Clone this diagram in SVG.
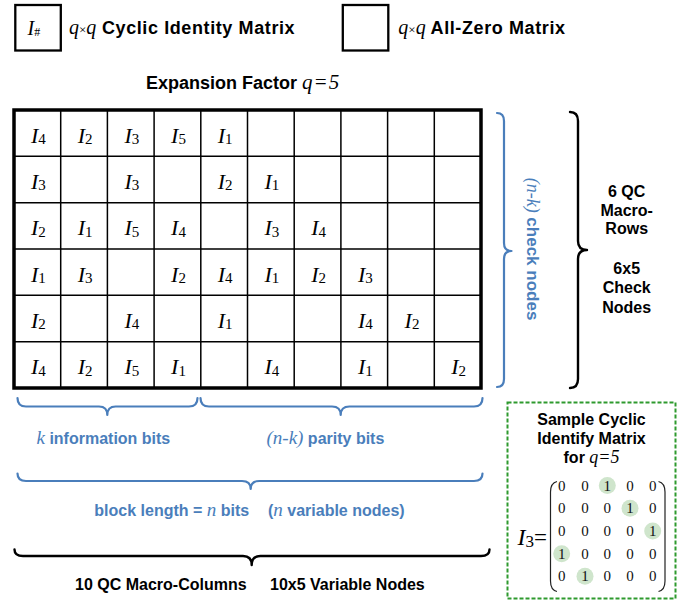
<svg xmlns="http://www.w3.org/2000/svg" width="694" height="608" viewBox="0 0 694 608">
<style>
.bg{fill:#fff}
.sa{font-family:"Liberation Sans",Arial,sans-serif;font-weight:bold}
.tm{font-family:"Liberation Serif","Times New Roman",serif;font-style:italic;font-weight:normal}
.tr{font-family:"Liberation Serif","Times New Roman",serif;font-style:normal;font-weight:normal}
.lg{font-size:18px;letter-spacing:0.6px}
.blue{fill:#4a7ebb}
.cell{font-size:22px;fill:#000}
.sub{font-size:15px}
.grid{stroke:#000;stroke-width:1.5;fill:none}
.brb{fill:none;stroke:#4a7ebb;stroke-width:2.2;stroke-linecap:round;stroke-linejoin:round}
.brk{fill:none;stroke:#000;stroke-width:2.4;stroke-linecap:round;stroke-linejoin:round}
.mx{font-size:15px;fill:#111}
.hl{fill:#cfe5cc}
</style>
<rect class="bg" x="0" y="0" width="694" height="608"/>

<g id="legend-identity">
  <rect x="15.3" y="5" width="45.5" height="45.5" fill="#fff" stroke="#000" stroke-width="2.3"/>
  <text x="27.5" y="35" class="tm" font-size="20">I<tspan class="tr" font-size="12" dy="1">#</tspan></text>
  <text x="69" y="34" class="sa lg"><tspan class="tm" font-size="20" letter-spacing="0">q</tspan><tspan class="tr" font-size="13" letter-spacing="0">×</tspan><tspan class="tm" font-size="20" letter-spacing="0">q</tspan> Cyclic Identity Matrix</text>
</g>

<g id="legend-zero">
  <rect x="342.8" y="5" width="45.5" height="45.5" fill="#fff" stroke="#000" stroke-width="2.3"/>
  <text x="398.3" y="34" class="sa lg"><tspan class="tm" font-size="20" letter-spacing="0">q</tspan><tspan class="tr" font-size="13" letter-spacing="0">×</tspan><tspan class="tm" font-size="20" letter-spacing="0">q</tspan> All-Zero Matrix</text>
</g>

<g id="title">
  <text x="146" y="89" class="sa" font-size="18">Expansion Factor <tspan class="tm" font-size="21" letter-spacing="1">q=5</tspan></text>
</g>

<g id="parity-check-matrix">
  <rect x="14" y="110" width="467" height="278" fill="#fff" stroke="#000" stroke-width="3.5"/>
  <path class="grid" d="M60.7,110V388M107.4,110V388M154.1,110V388M200.8,110V388M247.5,110V388M294.2,110V388M340.9,110V388M387.6,110V388M434.3,110V388M14,156.33H481M14,202.67H481M14,249H481M14,295.33H481M14,341.67H481"/>
  <g class="tm cell" text-anchor="middle">
    <!-- row 1 -->
    <text x="38.4" y="142.5">I<tspan class="tr sub" dy="1.5">4</tspan></text>
    <text x="85.1" y="142.5">I<tspan class="tr sub" dy="1.5">2</tspan></text>
    <text x="131.8" y="142.5">I<tspan class="tr sub" dy="1.5">3</tspan></text>
    <text x="178.5" y="142.5">I<tspan class="tr sub" dy="1.5">5</tspan></text>
    <text x="225.2" y="142.5">I<tspan class="tr sub" dy="1.5">1</tspan></text>
    <!-- row 2 -->
    <text x="38.4" y="188.8">I<tspan class="tr sub" dy="1.5">3</tspan></text>
    <text x="131.8" y="188.8">I<tspan class="tr sub" dy="1.5">3</tspan></text>
    <text x="225.2" y="188.8">I<tspan class="tr sub" dy="1.5">2</tspan></text>
    <text x="271.9" y="188.8">I<tspan class="tr sub" dy="1.5">1</tspan></text>
    <!-- row 3 -->
    <text x="38.4" y="235.1">I<tspan class="tr sub" dy="1.5">2</tspan></text>
    <text x="85.1" y="235.1">I<tspan class="tr sub" dy="1.5">1</tspan></text>
    <text x="131.8" y="235.1">I<tspan class="tr sub" dy="1.5">5</tspan></text>
    <text x="178.5" y="235.1">I<tspan class="tr sub" dy="1.5">4</tspan></text>
    <text x="271.9" y="235.1">I<tspan class="tr sub" dy="1.5">3</tspan></text>
    <text x="318.6" y="235.1">I<tspan class="tr sub" dy="1.5">4</tspan></text>
    <!-- row 4 -->
    <text x="38.4" y="281.5">I<tspan class="tr sub" dy="1.5">1</tspan></text>
    <text x="85.1" y="281.5">I<tspan class="tr sub" dy="1.5">3</tspan></text>
    <text x="178.5" y="281.5">I<tspan class="tr sub" dy="1.5">2</tspan></text>
    <text x="225.2" y="281.5">I<tspan class="tr sub" dy="1.5">4</tspan></text>
    <text x="271.9" y="281.5">I<tspan class="tr sub" dy="1.5">1</tspan></text>
    <text x="318.6" y="281.5">I<tspan class="tr sub" dy="1.5">2</tspan></text>
    <text x="365.3" y="281.5">I<tspan class="tr sub" dy="1.5">3</tspan></text>
    <!-- row 5 -->
    <text x="38.4" y="327.8">I<tspan class="tr sub" dy="1.5">2</tspan></text>
    <text x="131.8" y="327.8">I<tspan class="tr sub" dy="1.5">4</tspan></text>
    <text x="225.2" y="327.8">I<tspan class="tr sub" dy="1.5">1</tspan></text>
    <text x="365.3" y="327.8">I<tspan class="tr sub" dy="1.5">4</tspan></text>
    <text x="412" y="327.8">I<tspan class="tr sub" dy="1.5">2</tspan></text>
    <!-- row 6 -->
    <text x="38.4" y="374.1">I<tspan class="tr sub" dy="1.5">4</tspan></text>
    <text x="85.1" y="374.1">I<tspan class="tr sub" dy="1.5">2</tspan></text>
    <text x="131.8" y="374.1">I<tspan class="tr sub" dy="1.5">5</tspan></text>
    <text x="178.5" y="374.1">I<tspan class="tr sub" dy="1.5">1</tspan></text>
    <text x="271.9" y="374.1">I<tspan class="tr sub" dy="1.5">4</tspan></text>
    <text x="365.3" y="374.1">I<tspan class="tr sub" dy="1.5">1</tspan></text>
    <text x="458.7" y="374.1">I<tspan class="tr sub" dy="1.5">2</tspan></text>
  </g>
</g>

<g id="braces">
  <path class="brb" d="M497,113 Q504,113 504,121 L504,243 Q504,251 511.5,251 Q504,251 504,259 L504,379 Q504,387 497,387"/>
  <path class="brk" d="M570,112 Q578,112 578,121 L578,241 Q578,250 587,250 Q578,250 578,259 L578,379 Q578,388 570,388"/>
  <path class="brb" d="M17.5,398 Q17.5,406.5 26,406.5 L99,406.5 Q107.3,406.5 107.3,415 Q107.3,406.5 115.6,406.5 L189,406.5 Q197.5,406.5 197.5,398"/>
  <path class="brb" d="M200.5,398 Q200.5,406.5 209,406.5 L332,406.5 Q340.7,406.5 340.7,415 Q340.7,406.5 349.4,406.5 L474,406.5 Q482.5,406.5 482.5,398"/>
  <path class="brb" d="M17.5,473.5 Q17.5,481 26,481 L242,481 Q250.7,481 250.7,489 Q250.7,481 259.4,481 L474,481 Q482.5,481 482.5,473.5"/>
  <path class="brk" d="M14.5,549.5 Q14.5,556 23,556 L243,556 Q251.7,556 251.7,565 Q251.7,556 260.4,556 L481,556 Q489.5,556 489.5,549.5"/>
</g>

<g id="label-check-nodes">
  <text transform="translate(527,249) rotate(90)" text-anchor="middle" class="sa blue" font-size="17"><tspan class="tm" font-size="18">(n-k)</tspan> check nodes</text>
</g>

<g id="label-macro-rows" class="sa" font-size="16" text-anchor="middle">
  <text x="626.7" y="196.7">6 QC</text>
  <text x="626.7" y="215.5">Macro-</text>
  <text x="626.7" y="234.3">Rows</text>
  <text x="626.7" y="274.3">6x5</text>
  <text x="626.7" y="293.3">Check</text>
  <text x="626.7" y="312.5">Nodes</text>
</g>

<g id="label-info-bits">
  <text x="36.5" y="444" class="sa blue" font-size="16"><tspan class="tm" font-size="19">k</tspan> information bits</text>
</g>
<g id="label-parity-bits">
  <text x="266.5" y="444" class="sa blue" font-size="16"><tspan class="tm" font-size="19">(n-k)</tspan> parity bits</text>
</g>
<g id="label-block-length">
  <text x="94.3" y="516" class="sa blue" font-size="16">block length = <tspan class="tm" font-size="19">n</tspan> bits</text>
  <text x="268" y="516" class="sa blue" font-size="16">(<tspan class="tm" font-size="19">n</tspan> variable nodes)</text>
</g>
<g id="label-macro-columns">
  <text x="75" y="590" class="sa" font-size="16">10 QC Macro-Columns</text>
  <text x="270" y="590" class="sa" font-size="16">10x5 Variable Nodes</text>
</g>

<g id="sample-matrix">
  <rect x="507.5" y="402.5" width="168" height="196" fill="none" stroke="#2e9a2e" stroke-width="2" stroke-dasharray="4 2"/>
  <g class="sa" font-size="16" text-anchor="middle">
    <text x="591.5" y="425">Sample Cyclic</text>
    <text x="591.5" y="444.3">Identify Matrix</text>
    <text x="591.5" y="463.3">for <tspan class="tm" font-size="18">q=5</tspan></text>
  </g>
  <text x="517.5" y="545" class="tm" font-size="24">I<tspan class="tr" font-size="17" dy="2">3</tspan><tspan class="tr" font-size="23" dy="-2">=</tspan></text>
  <path d="M557,481.5 Q550.5,483 550.5,492 L550.5,581 Q550.5,590 557,591.5" fill="none" stroke="#222" stroke-width="1.2"/>
  <path d="M658.5,481.5 Q665,483 665,492 L665,581 Q665,590 658.5,591.5" fill="none" stroke="#222" stroke-width="1.2"/>
  <circle class="hl" cx="607.3" cy="485.5" r="8.5"/>
  <circle class="hl" cx="630" cy="508.2" r="8.5"/>
  <circle class="hl" cx="652.7" cy="531" r="8.5"/>
  <circle class="hl" cx="561.7" cy="553.7" r="8.5"/>
  <circle class="hl" cx="585" cy="576.3" r="8.5"/>
  <g class="tr mx" text-anchor="middle">
    <text x="561.7" y="490.5">0</text><text x="585" y="490.5">0</text><text x="607.3" y="490.5">1</text><text x="630" y="490.5">0</text><text x="652.7" y="490.5">0</text>
    <text x="561.7" y="513.2">0</text><text x="585" y="513.2">0</text><text x="607.3" y="513.2">0</text><text x="630" y="513.2">1</text><text x="652.7" y="513.2">0</text>
    <text x="561.7" y="536">0</text><text x="585" y="536">0</text><text x="607.3" y="536">0</text><text x="630" y="536">0</text><text x="652.7" y="536">1</text>
    <text x="561.7" y="558.7">1</text><text x="585" y="558.7">0</text><text x="607.3" y="558.7">0</text><text x="630" y="558.7">0</text><text x="652.7" y="558.7">0</text>
    <text x="561.7" y="581.3">0</text><text x="585" y="581.3">1</text><text x="607.3" y="581.3">0</text><text x="630" y="581.3">0</text><text x="652.7" y="581.3">0</text>
  </g>
</g>
</svg>
